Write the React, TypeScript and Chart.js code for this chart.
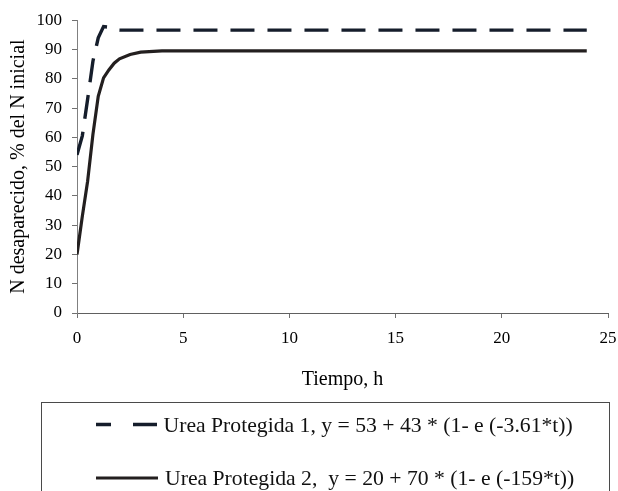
import React, { useEffect, useRef } from "react";
import { Chart, registerables } from "chart.js";

Chart.register(...registerables);

const times = [0, 0.25, 0.5, 0.75, 1, 1.25, 1.5, 1.75, 2, 2.5, 3, 4, 5, 6, 8, 10, 12, 16, 20, 24];
const urea1 = [54, 60.5, 73, 86, 94, 97.8, 97.6, 96.8, 96.6, 96.6, 96.6, 96.6, 96.6, 96.6, 96.6, 96.6, 96.6, 96.6, 96.6, 96.6];
const urea2 = [20, 33, 45, 61, 74, 80.3, 83, 85.3, 86.8, 88.3, 89.1, 89.5, 89.5, 89.5, 89.5, 89.5, 89.5, 89.5, 89.5, 89.5];
const seriesLabels = [
  "Urea Protegida 1, y = 53 + 43 * (1- e (-3.61*t))",
  "Urea Protegida 2,  y = 20 + 70 * (1- e (-159*t))",
];
const xTitle = "Tiempo, h";
const yTitle = "N desaparecido, % del N inicial";

const SERIF = "'Liberation Serif', 'Times New Roman', serif";

const boxLegend = {
  id: "boxLegend",
  afterDraw(chart: any) {
    const ctx = chart.ctx as CanvasRenderingContext2D;
    ctx.save();
    ctx.strokeStyle = "#4a4a4a";
    ctx.lineWidth = 1;
    ctx.strokeRect(41.5, 402.5, 568, 120);
    const rows = [
      { base: 431.5, x1: 96, x2: 157, tx: 163.5, dash: [15, 22, 24, 0] },
      { base: 485, x1: 96, x2: 158, tx: 165, dash: [] as number[] },
    ];
    chart.data.datasets.forEach((ds: any, i: number) => {
      const r = rows[i];
      ctx.beginPath();
      ctx.setLineDash(r.dash);
      ctx.strokeStyle = ds.borderColor;
      ctx.lineWidth = ds.borderWidth;
      ctx.moveTo(r.x1, r.base - 7);
      ctx.lineTo(r.x2, r.base - 7);
      ctx.stroke();
      ctx.setLineDash([]);
      ctx.fillStyle = "#111";
      ctx.font = `21.7px ${SERIF}`;
      ctx.textBaseline = "alphabetic";
      ctx.textAlign = "left";
      ctx.fillText(ds.label, r.tx, r.base);
    });
    ctx.restore();
  },
};

export default function App() {
  const ref = useRef<HTMLCanvasElement | null>(null);
  useEffect(() => {
    document.body.style.margin = "0";
    if (!ref.current) return;
    const chart = new Chart(ref.current, {
      type: "line",
      data: {
        datasets: [
          {
            label: seriesLabels[0],
            data: times.map((t, i) => ({ x: t, y: urea1[i] })),
            borderColor: "#151d2b",
            borderWidth: 3.4,
            borderDash: [24, 13],
            pointRadius: 0,
            tension: 0,
            fill: false,
          },
          {
            label: seriesLabels[1],
            data: times.map((t, i) => ({ x: t, y: urea2[i] })),
            borderColor: "#231f1f",
            borderWidth: 3.2,
            pointRadius: 0,
            tension: 0,
            fill: false,
          },
        ],
      },
      options: {
        responsive: false,
        animation: false,
        layout: { padding: { left: 3, top: 20, right: 10, bottom: 99 } },
        plugins: {
          legend: { display: false },
          tooltip: { enabled: false },
        },
        scales: {
          x: {
            type: "linear",
            min: 0,
            max: 25,
            afterFit: (s: any) => {
              s.height = 79;
              s.paddingRight = 0;
            },
            ticks: {
              stepSize: 5,
              color: "#000",
              padding: 10,
              font: { family: SERIF, size: 17 },
              maxRotation: 0,
            },
            grid: {
              drawOnChartArea: false,
              drawTicks: true,
              tickLength: 5,
              color: "#707070",
            },
            border: { color: "#606060", width: 1 },
            title: {
              display: true,
              text: xTitle,
              color: "#000",
              font: { family: SERIF, size: 20 },
              padding: { top: 0, bottom: 0 },
            },
          },
          y: {
            type: "linear",
            min: 0,
            max: 100,
            afterFit: (s: any) => {
              s.width = 74;
            },
            ticks: {
              stepSize: 10,
              color: "#000",
              padding: 10,
              font: { family: SERIF, size: 17 },
            },
            grid: {
              drawOnChartArea: false,
              drawTicks: true,
              tickLength: 5,
              color: "#707070",
            },
            border: { color: "#808080", width: 1 },
            title: {
              display: true,
              text: yTitle,
              color: "#000",
              font: { family: SERIF, size: 20 },
              padding: { top: 4, bottom: 4 },
            },
          },
        },
      },
      plugins: [boxLegend],
    });
    return () => chart.destroy();
  }, []);
  return (
    <div style={{ width: 618, height: 491 }}>
      <canvas ref={ref} width={618} height={491} style={{ display: "block" }} />
    </div>
  );
}
